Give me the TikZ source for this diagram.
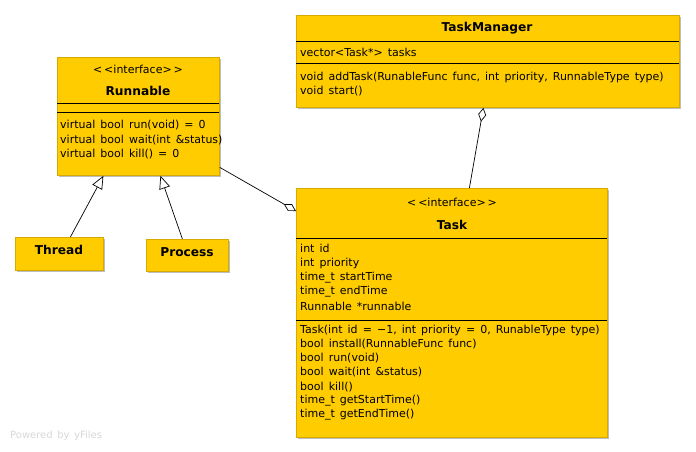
\documentclass[tikz,border=0pt]{standalone}
\usepackage{fontspec}
\setmainfont{DejaVu Sans}[WordSpace=1.45]
\usetikzlibrary{arrows.meta,calc,shadows}
\definecolor{umlfill}{RGB}{255,204,0}
\definecolor{umledge}{RGB}{214,170,0}
\definecolor{umlshadow}{RGB}{190,190,190}
\definecolor{powered}{RGB}{215,215,215}
\tikzset{
  umlbox/.style={draw=umledge, fill=umlfill, line width=0.8pt, inner sep=0pt, anchor=north west,
    drop shadow={shadow xshift=1.6pt, shadow yshift=-1.6pt, fill=umlshadow, opacity=1}},
  member/.style={anchor=west, inner sep=0pt, font=\fontsize{11}{13}\selectfont},
  stereo/.style={anchor=center, inner sep=0pt, font=\fontsize{11}{13}\selectfont},
  title/.style={anchor=center, inner sep=0pt, font=\fontsize{12.2}{14}\selectfont\bfseries},
  sep/.style={line width=0.8pt, black},
  conn/.style={line width=0.7pt, black},
  inherit/.style={conn, -{Triangle[open, length=13pt, width=11pt, fill=white]}},
  aggr/.style={conn, -{Diamond[open, length=14pt, width=8pt, fill=white]}},
}
\newcommand{\stereotxt}{{<}\,{<}interface{>}\,{>}}
\begin{document}
\begin{tikzpicture}[x=1pt,y=-1pt]
\useasboundingbox (0,0) rectangle (696,452);
% Runnable
\node[umlbox, minimum width=162pt, minimum height=118pt] (runnable) at (57,57) {};
\node[stereo] (rst) at (138,69) {\stereotxt};
\node[title] (rtt) at (138,91) {Runnable};
\draw[sep] (57,103) -- (219,103);
\draw[sep] (57,112) -- (219,112);
\node[member] (r1) at (60,125) {virtual bool run(void) = 0};
\node[member] (r2) at (60,140) {virtual bool wait(int \&status)};
\node[member] (r3) at (60,154) {virtual bool kill() = 0};
% TaskManager
\node[umlbox, minimum width=383pt, minimum height=92pt] (tm) at (296,15) {};
\node[title] (tmt) at (487,28) {TaskManager};
\draw[sep] (296,41) -- (679,41);
\node[member] (tm1) at (300,52) {vector<Task*> tasks};
\draw[sep] (296,63) -- (679,63);
\node[member] (tm2) at (300,77) {void addTask(RunableFunc func, int priority, RunnableType type)};
\node[member] (tm3) at (300,91) {void start()};
% Task
\node[umlbox, minimum width=311pt, minimum height=249pt] (task) at (296,188) {};
\node[stereo] (tst) at (452,202) {\stereotxt};
\node[title] (ttt) at (452,225) {Task};
\draw[sep] (296,238) -- (607,238);
\node[member] (ta1) at (300,248) {int id};
\node[member] (ta2) at (300,263) {int priority};
\node[member] (ta3) at (300,278) {time\_t startTime};
\node[member] (ta4) at (300,292) {time\_t endTime};
\node[member] (ta5) at (300,306) {Runnable *runnable};
\draw[sep] (296,320) -- (607,320);
\node[member] (tb1) at (300,330) {Task(int id = −1, int priority = 0, RunableType type)};
\node[member] (tb2) at (300,344) {bool install(RunnableFunc func)};
\node[member] (tb3) at (300,358) {bool run(void)};
\node[member] (tb4) at (300,372) {bool wait(int \&status)};
\node[member] (tb5) at (300,387) {bool kill()};
\node[member] (tb6) at (300,401) {time\_t getStartTime()};
\node[member] (tb7) at (300,415) {time\_t getEndTime()};
% Thread, Process
\node[umlbox, minimum width=88pt, minimum height=33pt] (thread) at (15,237) {};
\node[title] (tht) at (59,250) {Thread};
\node[umlbox, minimum width=82pt, minimum height=32pt] (process) at (146,239) {};
\node[title] (prt) at (187,252) {Process};
% connectors
\draw[inherit] ([xshift=11pt]thread.north) -- ([xshift=-35pt]runnable.south);
\draw[inherit] ([xshift=-5pt]process.north) -- ([xshift=22pt]runnable.south);
\draw[aggr] ([yshift=-51pt]runnable.east) -- ([yshift=-23pt]task.north west);
\draw[aggr] ([xshift=17.5pt]task.north) -- ([xshift=-4.5pt]tm.south);
% footer
\node[anchor=west, inner sep=0pt, text=powered, font=\fontsize{10}{12}\selectfont] (pw) at (10,436) {Powered by yFiles};
\end{tikzpicture}
\end{document}
